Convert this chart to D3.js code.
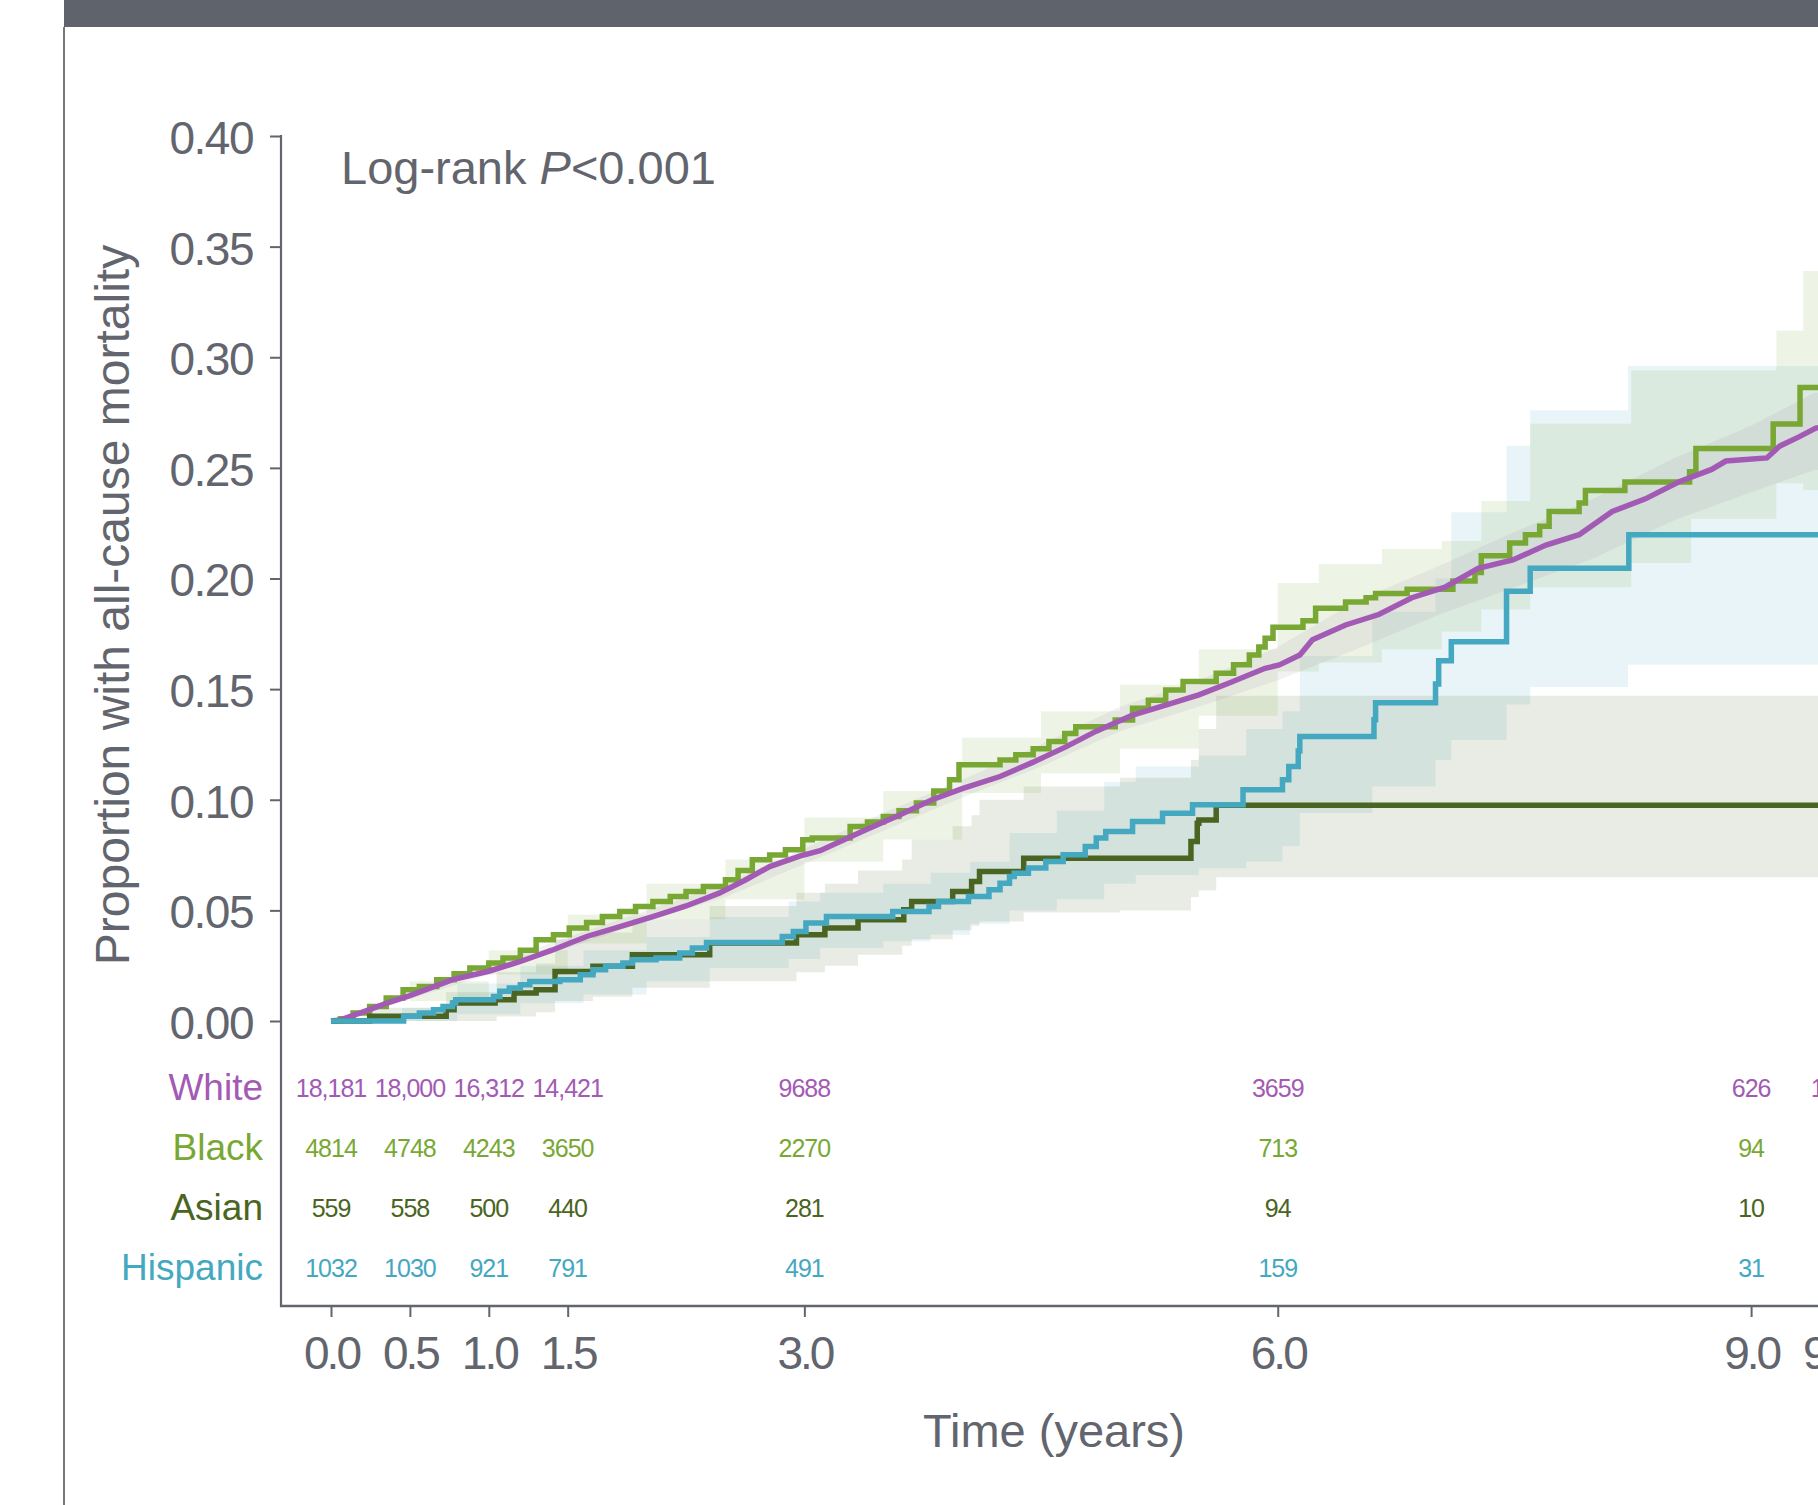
<!DOCTYPE html>
<html>
<head>
<meta charset="utf-8">
<script src="https://cdn.jsdelivr.net/npm/d3@7"></script>
<style>
  html, body { margin: 0; padding: 0; background: #fff; }
  svg { display: block; }
  text { font-family: "Liberation Sans", Arial, sans-serif; }
</style>
</head>
<body>
<svg id="plot" width="1818" height="1505"></svg>
<script>
// groups and colours
const groups = ['White', 'Black', 'Asian', 'Hispanic'];
const colors = ['#a35ab5', '#78a833', '#4a6421', '#45a8c1'];

// cumulative mortality curves (time in years, proportion)
const whiteT = [0, 0.06, 0.2, 0.35, 0.5, 0.77, 1.0, 1.2, 1.4, 1.62, 1.8, 2.04, 2.25, 2.46, 2.62, 2.78, 2.97, 3.1,
  3.39, 3.6, 3.81, 4.0, 4.24, 4.45, 4.66, 4.85, 5.08, 5.3, 5.5, 5.7, 5.92, 6.01, 6.14, 6.22, 6.43, 6.64, 6.85,
  7.06, 7.27, 7.49, 7.7, 7.91, 8.12, 8.33, 8.54, 8.75, 8.84, 9.1, 9.18, 9.3, 9.41, 9.6];
const whiteV = [0, 0.0005, 0.004, 0.008, 0.0115, 0.0187, 0.0225, 0.0269, 0.032, 0.0382, 0.042, 0.0472, 0.052,
  0.0578, 0.0635, 0.0698, 0.0745, 0.077, 0.0864, 0.093, 0.1, 0.105, 0.1105, 0.117, 0.124, 0.131, 0.1383, 0.143,
  0.1474, 0.153, 0.1594, 0.1609, 0.1654, 0.1723, 0.179, 0.1837, 0.1913, 0.1961, 0.2046, 0.2084, 0.2151, 0.2198,
  0.2303, 0.236, 0.2436, 0.2493, 0.2531, 0.2545, 0.2598, 0.2639, 0.268, 0.27];

const blackT = [0, 0.06, 0.14, 0.245, 0.35, 0.457, 0.56, 0.67, 0.78, 0.88, 1.0, 1.09, 1.2, 1.3, 1.41, 1.51, 1.62,
  1.72, 1.83, 1.93, 2.04, 2.15, 2.25, 2.36, 2.5, 2.58, 2.67, 2.78, 2.88, 2.99, 3.05, 3.29, 3.4, 3.5, 3.6, 3.71,
  3.82, 3.92, 3.98, 4.24, 4.34, 4.45, 4.55, 4.65, 4.72, 4.97, 5.08, 5.18, 5.29, 5.4, 5.61, 5.72, 5.82, 5.88, 5.92,
  5.97, 6.16, 6.24, 6.43, 6.56, 6.62, 6.82, 7.11, 7.25, 7.29, 7.47, 7.57, 7.66, 7.72, 7.91, 7.95, 8.2, 8.61, 8.65,
  9.14, 9.31, 9.6];
const blackV = [0, 0.001, 0.0036, 0.0066, 0.0104, 0.0141, 0.0156, 0.0187, 0.0213, 0.0239, 0.0262, 0.0285, 0.032,
  0.0367, 0.039, 0.042, 0.0445, 0.0472, 0.0495, 0.0518, 0.054, 0.0563, 0.0585, 0.0608, 0.0638, 0.068, 0.0729,
  0.075, 0.0774, 0.0819, 0.0827, 0.0879, 0.09, 0.0924, 0.095, 0.0985, 0.104, 0.109, 0.1158, 0.118, 0.1203, 0.123,
  0.1263, 0.13, 0.133, 0.136, 0.1414, 0.145, 0.1496, 0.1534, 0.1572, 0.161, 0.1654, 0.169, 0.173, 0.178, 0.1809,
  0.1866, 0.1894, 0.1913, 0.1932, 0.1951, 0.1989, 0.2027, 0.2103, 0.216, 0.2198, 0.2236, 0.2303, 0.2341, 0.2398,
  0.2436, 0.2483, 0.2588, 0.2698, 0.2863, 0.2863];

const asianT = [0, 0.245, 0.73, 0.78, 1.04, 1.16, 1.3, 1.42, 1.66, 1.91, 2.4, 2.95, 3.13, 3.34, 3.63, 3.68, 3.94,
  4.06, 4.11, 4.39, 5.45, 5.49, 5.5, 5.61, 9.6];
const asianV = [0, 0.0021, 0.0051, 0.0081, 0.0096, 0.0126, 0.0141, 0.0224, 0.0247, 0.0299, 0.0352, 0.039, 0.042,
  0.0458, 0.0503, 0.054, 0.0585, 0.063, 0.0676, 0.0736, 0.0811, 0.0894, 0.0909, 0.0975, 0.0975];

const hispT = [0, 0.46, 0.56, 0.65, 0.71, 0.77, 0.79, 1.03, 1.07, 1.13, 1.2, 1.26, 1.45, 1.58, 1.66, 1.74, 1.85,
  1.91, 2.06, 2.21, 2.29, 2.38, 2.86, 2.93, 3.01, 3.14, 3.56, 3.79, 3.85, 4.04, 4.17, 4.24, 4.3, 4.33, 4.42, 4.53,
  4.64, 4.78, 4.85, 4.91, 5.08, 5.27, 5.46, 5.78, 6.03, 6.07, 6.13, 6.14, 6.61, 6.62, 7.0, 7.02, 7.1, 7.45, 7.6,
  8.225, 9.6];
const hispV = [0, 0.0021, 0.0036, 0.0051, 0.0066, 0.0081, 0.0096, 0.0111, 0.0134, 0.0149, 0.0164, 0.0179, 0.0186,
  0.0209, 0.0232, 0.0247, 0.0262, 0.0277, 0.0285, 0.0307, 0.033, 0.0355, 0.0382, 0.0405, 0.0443, 0.0472, 0.0495,
  0.0518, 0.054, 0.0563, 0.0593, 0.0623, 0.0653, 0.0668, 0.0691, 0.0721, 0.0751, 0.0789, 0.0827, 0.0856, 0.0902,
  0.0939, 0.0977, 0.1045, 0.109, 0.115, 0.122, 0.1286, 0.1362, 0.1438, 0.1523, 0.1628, 0.1714, 0.1942, 0.2046,
  0.2198, 0.2198];

// 95% confidence bands
const whiteBandT = [0, 0.5, 1, 1.5, 2, 2.5, 3, 3.5, 4, 4.5, 5, 5.5, 6, 6.5, 7, 7.5, 8, 8.5, 9, 9.4, 9.6];
const whiteLo = [0, 0.010, 0.021, 0.033, 0.045, 0.056, 0.071, 0.086, 0.101, 0.115, 0.131, 0.142, 0.154, 0.168,
  0.183, 0.196, 0.209, 0.226, 0.239, 0.249, 0.249];
const whiteHi = [0, 0.013, 0.025, 0.038, 0.050, 0.062, 0.078, 0.094, 0.109, 0.125, 0.142, 0.154, 0.169, 0.190,
  0.205, 0.221, 0.236, 0.254, 0.269, 0.284, 0.284];

const blackBandT = [0, 0.5, 1, 1.5, 2, 2.5, 3, 3.5, 4, 4.5, 5, 5.5, 6, 6.26, 6.66, 7.04, 7.29, 7.6, 8.24, 8.62, 9.16, 9.33, 9.6];
const blackLo = [0, 0.009, 0.021, 0.035, 0.046, 0.055, 0.072, 0.082, 0.103, 0.112, 0.123, 0.138, 0.158, 0.162, 0.168, 0.176, 0.186, 0.196, 0.207, 0.227, 0.243, 0.24, 0.24];
const blackHi = [0, 0.018, 0.032, 0.048, 0.062, 0.073, 0.092, 0.104, 0.128, 0.14, 0.152, 0.168, 0.198, 0.2065, 0.2133, 0.217, 0.235, 0.27, 0.294, 0.294, 0.312, 0.339, 0.339];

const asianBandT = [0, 0.25, 0.73, 1.05, 1.3, 1.42, 1.66, 1.91, 2.4, 2.95, 3.13, 3.34, 3.62, 3.68, 3.94, 4.06, 4.11, 4.39, 5.0, 5.45, 5.5, 5.61, 9.6];
const asianLo = [0, 0, 0, 0.002, 0.004, 0.009, 0.011, 0.015, 0.018, 0.022, 0.025, 0.030, 0.034, 0.037, 0.041, 0.043, 0.045, 0.049, 0.050, 0.056, 0.059, 0.065, 0.065];
const asianHi = [0, 0.006, 0.013, 0.022, 0.026, 0.037, 0.040, 0.046, 0.052, 0.058, 0.062, 0.068, 0.073, 0.082, 0.088, 0.093, 0.100, 0.106, 0.110, 0.118, 0.132, 0.147, 0.147];

const hispBandT = [0, 0.45, 0.8, 1.2, 1.6, 2.0, 2.4, 2.9, 3.1, 3.5, 3.8, 4.05, 4.3, 4.6, 4.9, 5.1, 5.5, 5.8, 6.03, 6.14, 6.6, 7.0, 7.1, 7.45, 7.6, 8.22, 9.6];
const hispLo = [0, 0, 0.003, 0.008, 0.012, 0.018, 0.024, 0.028, 0.033, 0.036, 0.039, 0.044, 0.050, 0.055, 0.062, 0.066, 0.069, 0.072, 0.079, 0.094, 0.106, 0.118, 0.127, 0.143, 0.151, 0.161, 0.161];
const hispHi = [0, 0.006, 0.017, 0.025, 0.032, 0.038, 0.047, 0.054, 0.058, 0.062, 0.067, 0.072, 0.085, 0.095, 0.108, 0.115, 0.120, 0.132, 0.140, 0.165, 0.185, 0.200, 0.230, 0.260, 0.276, 0.296, 0.296];

// axis ticks
const yTicks = [0, 0.05, 0.10, 0.15, 0.20, 0.25, 0.30, 0.35, 0.40];
const xTicks = [0, 0.5, 1.0, 1.5, 3.0, 6.0, 9.0, 9.5];

// number at risk at each x tick
const riskWhite = ['18,181', '18,000', '16,312', '14,421', '9688', '3659', '626', '150'];
const riskBlack = ['4814', '4748', '4243', '3650', '2270', '713', '94', '14'];
const riskAsian = ['559', '558', '500', '440', '281', '94', '10', '2'];
const riskHisp = ['1032', '1030', '921', '791', '491', '159', '31', '6'];

const curves = [
  { t: whiteT, v: whiteV, bt: whiteBandT, lo: whiteLo, hi: whiteHi, step: false },
  { t: blackT, v: blackV, bt: blackBandT, lo: blackLo, hi: blackHi, step: true },
  { t: asianT, v: asianV, bt: asianBandT, lo: asianLo, hi: asianHi, step: true },
  { t: hispT, v: hispV, bt: hispBandT, lo: hispLo, hi: hispHi, step: true }
];
const risks = [riskWhite, riskBlack, riskAsian, riskHisp];

const grey = '#62656d';
const svg = d3.select('#plot');

// header band and page frame
svg.append('rect').attr('x', 64).attr('y', 0).attr('width', 1760).attr('height', 27).attr('fill', '#5f636b');
svg.append('line').attr('x1', 64).attr('x2', 64).attr('y1', 27).attr('y2', 1505)
  .attr('stroke', '#74777e').attr('stroke-width', 2);

const x = d3.scaleLinear().domain([0, 9.5]).range([331, 1830]);
const y = d3.scaleLinear().domain([0, 0.4]).range([1021, 136]);

// bands
const bandOrder = [3, 2, 1, 0];
const bandOpacity = [0.1, 0.13, 0.12, 0.12];
bandOrder.forEach(i => {
  const c = curves[i];
  const pts = c.bt.map((t, k) => [t, c.lo[k], c.hi[k]]);
  const area = d3.area().curve(i === 0 ? d3.curveLinear : d3.curveStepAfter)
    .x(d => x(d[0])).y0(d => y(d[1])).y1(d => y(d[2]));
  svg.append('path')
    .attr('d', area(pts))
    .attr('fill', i === 0 ? '#8a6f92' : colors[i])
    .attr('fill-opacity', bandOpacity[i]);
});

// lines
const lineOrder = [1, 0, 2, 3];
lineOrder.forEach(i => {
  const c = curves[i];
  const pts = c.t.map((t, k) => [t, c.v[k]]);
  const line = d3.line().curve(c.step ? d3.curveStepAfter : d3.curveLinear)
    .x(d => x(d[0])).y(d => y(d[1]));
  svg.append('path')
    .attr('d', line(pts))
    .attr('fill', 'none')
    .attr('stroke', colors[i])
    .attr('stroke-width', 5.5)
    .attr('stroke-linejoin', 'miter');
});

// y axis
const yAxis = svg.append('g')
  .attr('transform', 'translate(281,0)')
  .call(d3.axisLeft(y).tickValues(yTicks).tickFormat(d3.format('.2f')).tickSize(11).tickSizeOuter(0).tickPadding(17));
yAxis.select('.domain').remove();
yAxis.selectAll('line').attr('stroke', grey).attr('stroke-width', 2);
yAxis.selectAll('text')
  .attr('fill', grey).attr('font-size', 46).attr('letter-spacing', -1.5)
  .attr('dy', '0.38em');
svg.append('line').attr('x1', 281).attr('x2', 281).attr('y1', 135).attr('y2', 1307)
  .attr('stroke', grey).attr('stroke-width', 2.2);

// x axis
const xAxis = svg.append('g')
  .attr('transform', 'translate(0,1306)')
  .call(d3.axisBottom(x).tickValues(xTicks).tickFormat(d3.format('.1f')).tickSize(11).tickSizeOuter(0).tickPadding(19));
xAxis.select('.domain').remove();
xAxis.selectAll('line').attr('stroke', grey).attr('stroke-width', 2);
xAxis.selectAll('text')
  .attr('fill', grey).attr('font-size', 46).attr('letter-spacing', -3)
  .attr('dy', '0.71em');
svg.append('line').attr('x1', 280).attr('x2', 1818).attr('y1', 1306).attr('y2', 1306)
  .attr('stroke', grey).attr('stroke-width', 2.6);

// axis titles
svg.append('text')
  .attr('transform', 'translate(129,605) rotate(-90)')
  .attr('text-anchor', 'middle')
  .attr('font-size', 48).attr('fill', grey)
  .text('Proportion with all-cause mortality');
svg.append('text')
  .attr('x', 1054).attr('y', 1447)
  .attr('text-anchor', 'middle')
  .attr('font-size', 47).attr('fill', grey)
  .text('Time (years)');

// log-rank annotation
const lr = svg.append('text').attr('x', 341).attr('y', 184).attr('font-size', 47).attr('fill', grey);
lr.append('tspan').text('Log-rank ');
lr.append('tspan').attr('font-style', 'italic').text('P');
lr.append('tspan').text('<0.001');

// number at risk table
const rowBase = [1097, 1157, 1217, 1277];
groups.forEach((g, i) => {
  svg.append('text')
    .attr('x', 263).attr('y', rowBase[i] + 3)
    .attr('text-anchor', 'end')
    .attr('font-size', 37).attr('fill', colors[i])
    .text(g);
  svg.selectAll(null)
    .data(risks[i])
    .enter()
    .append('text')
    .attr('x', (d, k) => x(xTicks[k]))
    .attr('y', rowBase[i])
    .attr('text-anchor', 'middle')
    .attr('font-size', 25).attr('letter-spacing', -1)
    .attr('fill', colors[i])
    .text(d => d);
});
</script>
</body>
</html>
